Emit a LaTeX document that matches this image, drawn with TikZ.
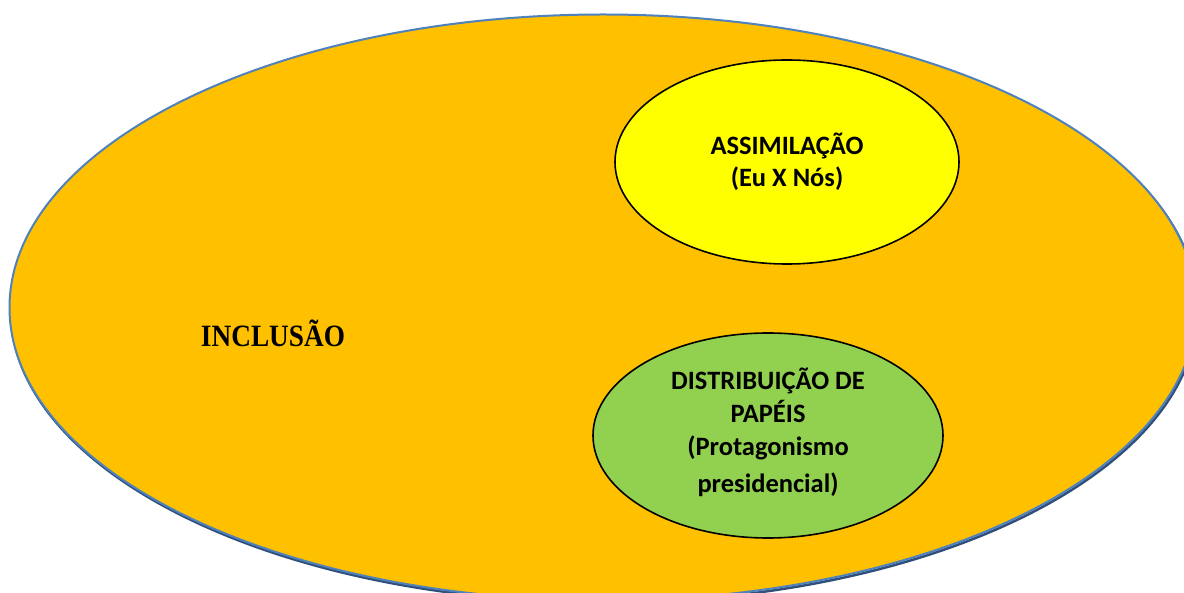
\documentclass[tikz,border=0pt]{standalone}
\usepackage{fontspec}
\setmainfont{Carlito}
\newfontfamily\incfont[FakeStretch=0.88]{Liberation Serif}
\usetikzlibrary{shapes.geometric}
\definecolor{outerfill}{HTML}{FFC000}
\definecolor{outerline}{HTML}{4F81BD}
\definecolor{shadowline}{HTML}{2F4F7A}
\definecolor{assimfill}{HTML}{FFFF00}
\definecolor{distfill}{HTML}{92D050}
\tikzset{
  blob/.style={ellipse, inner sep=0pt, draw=black, line width=1.6pt},
  lbl/.style={font=\bfseries\fontsize{26.5}{32}\selectfont, align=center, inner sep=0pt, text=black},
}
\begin{document}
\begin{tikzpicture}[x=1pt, y=-1pt]
\useasboundingbox (0,0) rectangle (1184,593);
\clip (0,0) rectangle (1184,593);
\fill[white] (0,0) rectangle (1184,593);
% outer ellipse with slight shadow
\draw[shadowline, line width=2.5pt] (604,309.5) ellipse [x radius=593.5, y radius=293];
\node[ellipse, inner sep=0pt, minimum width=1187pt, minimum height=586pt,
      fill=outerfill, draw=outerline, line width=2pt] (outer) at (603,307.5) {};
% inner ellipses
\node[blob, fill=assimfill, minimum width=344pt, minimum height=204pt] (assim) at (787,162) {};
\node[blob, fill=distfill, minimum width=350pt, minimum height=205pt] (dist) at (768,435.5) {};
% texts
\node[lbl] (assimt) at (787,162) {ASSIMILAÇÃO\\(Eu X Nós)};
\node[lbl, font=\bfseries\fontsize{26.5}{33}\selectfont] (distt) at (768,432) {DISTRIBUIÇÃO DE\\PAPÉIS\\(Protagonismo\\[4pt]presidencial)};
\node[inner sep=0pt, font=\incfont\bfseries\fontsize{31}{36}\selectfont] (incl) at (273,333) {INCLUSÃO};
\end{tikzpicture}
\end{document}
